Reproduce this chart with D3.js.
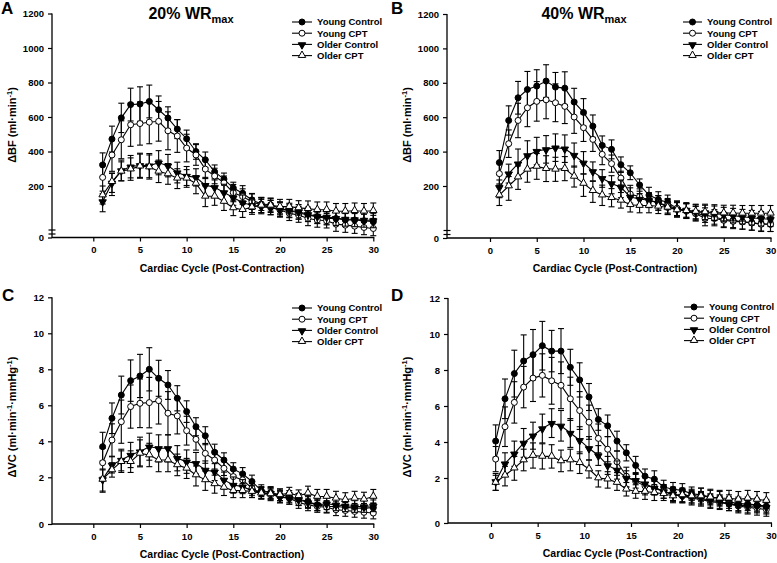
<!DOCTYPE html>
<html><head><meta charset="utf-8">
<script src="https://cdn.jsdelivr.net/npm/d3@7"></script>
<style>
body{margin:0;background:#fff}
svg{display:block}
text{font-family:"Liberation Sans",Arial,sans-serif;font-weight:bold;fill:#000}
</style></head>
<body><svg id="chart" width="777" height="563"></svg>
<script>
// ---------- DATA ----------
const cyclesAB = [1,2,3,4,5,6,7,8,9,10,11,12,13,14,15,16,17,18,19,20,21,22,23,24,25,26,27,28,29,30];
const cyclesC  = [1,2,3,4,5,6,7,8,9,10,11,12,13,14,15,16,17,18,19,20,21,22,23,24,25,26,27,28,29,30];
const cyclesD  = [0.5,1.5,2.5,3.5,4.5,5.5,6.5,7.5,8.5,9.5,10.5,11.5,12.5,13.5,14.5,15.5,16.5,17.5,18.5,19.5,20.5,21.5,22.5,23.5,24.5,25.5,26.5,27.5,28.5,29.5];

const seriesNames = ["Young Control","Young CPT","Older Control","Older CPT"];
const xTickValues = [0,5,10,15,20,25,30];
const bfTickValues = [0,200,400,600,800,1000,1200];
const vcTickValues = [0,2,4,6,8,10,12];
const panelLetters = ["A","B","C","D"];
const panelTitles = ["20% WR","40% WR"];
const xAxisTitle = "Cardiac Cycle (Post-Contraction)";

// Panel A: ΔBF at 20% WRmax
const bfA_youngControl = [322,472,595,672,675,690,642,594,530,474,400,352,282,240,192,172,146,130,127,113,104,96,87,81,74,74,68,68,65,61];
const bfA_youngCPT     = [250,380,468,555,562,570,575,520,490,420,380,298,258,218,174,159,139,126,117,107,94,87,74,68,65,52,48,44,39,35];
const bfA_olderControl = [140,218,290,312,320,318,335,318,278,258,250,205,195,175,155,135,125,120,116,110,105,100,90,82,80,75,72,70,68,66];
const bfA_olderCPT     = [165,225,285,298,315,310,285,270,245,245,215,160,160,140,115,108,118,125,125,120,120,115,112,108,108,102,102,104,102,104];
const bfA_youngControlErr = [70,75,85,95,100,95,80,65,55,50,45,45,40,35,30,30,25,25,25,25,25,25,25,25,25,25,25,25,25,25];
const bfA_youngCPTErr     = [80,95,110,125,125,125,115,110,95,80,60,55,45,40,35,30,30,30,28,28,28,28,28,28,28,28,28,28,28,28];
const bfA_olderControlErr = [40,55,60,65,70,70,70,65,60,55,50,45,40,35,30,30,28,28,28,28,28,28,28,28,28,28,28,28,28,28];
const bfA_olderCPTErr     = [35,50,55,65,70,70,65,60,55,50,45,40,35,35,30,30,28,28,28,28,28,28,30,30,30,30,30,30,30,30];

// Panel B: ΔBF at 40% WRmax
const bfB_youngControl = [336,581,713,761,781,810,775,769,688,628,548,436,413,324,277,206,165,148,137,114,105,94,88,81,71,68,62,58,55,53];
const bfB_youngCPT     = [272,446,581,655,692,701,684,663,601,539,471,384,330,246,169,159,146,135,124,114,103,94,75,75,68,64,62,58,53,53];
const bfB_olderControl = [195,272,330,378,403,413,423,417,380,335,285,245,215,195,158,150,145,135,120,110,108,100,98,95,90,86,82,78,74,72];
const bfB_olderCPT     = [165,200,252,297,314,301,297,301,256,215,182,165,155,145,128,125,125,122,118,108,105,102,100,98,96,96,95,95,95,95];
const bfB_youngControlErr = [70,85,95,105,95,95,85,95,80,80,65,55,55,45,40,35,30,30,28,28,28,28,28,28,28,28,28,28,28,28];
const bfB_youngCPTErr     = [60,80,100,110,115,110,110,100,95,80,70,60,50,40,35,30,28,28,28,28,28,28,28,28,28,28,28,28,28,28];
const bfB_olderControlErr = [40,55,85,85,80,80,80,80,70,65,55,50,45,40,35,30,28,28,28,28,28,28,28,28,28,28,28,28,28,28];
const bfB_olderCPTErr     = [40,55,65,75,75,75,70,70,60,55,45,40,35,30,28,28,28,28,28,28,28,28,30,30,30,30,30,30,30,30];

// Panel C: ΔVC at 20% WRmax
const vcC_youngControl = [3.70,5.28,6.57,7.37,7.63,8.00,7.50,7.13,6.39,5.65,4.81,4.31,3.39,2.96,2.46,2.19,1.82,1.43,1.35,1.25,1.18,1.06,0.96,0.82,0.75,0.75,0.72,0.68,0.68,0.70];
const vcC_youngCPT     = [2.81,4.07,5.09,5.93,6.11,6.15,6.26,5.56,5.41,4.59,4.11,3.33,2.96,2.50,2.04,1.89,1.53,1.32,1.25,1.18,1.10,0.92,0.82,0.75,0.72,0.61,0.58,0.54,0.50,0.47];
const vcC_olderControl = [1.91,2.69,2.96,3.24,3.43,3.70,3.61,3.61,3.06,2.87,2.78,2.41,2.31,1.89,1.67,1.60,1.43,1.35,1.32,1.15,1.10,1.04,0.92,0.82,0.87,0.82,0.78,0.75,0.75,0.78];
const vcC_olderCPT     = [1.91,2.41,2.87,2.87,3.33,3.24,2.96,2.96,2.69,2.50,2.13,1.89,1.72,1.57,1.43,1.43,1.39,1.32,1.29,1.25,1.32,1.21,1.32,1.18,1.18,1.10,1.04,1.10,1.06,1.18];
const vcC_youngControlErr = [0.80,0.85,1.05,1.15,1.20,1.20,1.00,0.80,0.70,0.60,0.50,0.50,0.45,0.40,0.35,0.35,0.30,0.25,0.25,0.25,0.25,0.25,0.25,0.25,0.25,0.20,0.20,0.20,0.20,0.20];
const vcC_youngCPTErr     = [0.80,0.90,1.20,1.20,1.35,1.40,1.30,1.20,1.00,0.80,0.60,0.55,0.50,0.40,0.35,0.30,0.30,0.25,0.25,0.25,0.25,0.25,0.25,0.25,0.25,0.25,0.25,0.25,0.25,0.25];
const vcC_olderControlErr = [0.55,0.45,0.60,0.70,0.80,0.75,0.75,0.75,0.70,0.65,0.60,0.50,0.45,0.40,0.35,0.30,0.30,0.25,0.25,0.25,0.25,0.25,0.25,0.25,0.25,0.25,0.25,0.25,0.25,0.25];
const vcC_olderCPTErr     = [0.50,0.40,0.60,0.60,0.75,0.65,0.65,0.65,0.60,0.55,0.50,0.45,0.40,0.35,0.30,0.30,0.25,0.25,0.25,0.25,0.25,0.25,0.30,0.30,0.30,0.30,0.30,0.30,0.30,0.30];

// Panel D: ΔVC at 40% WRmax
const vcD_youngControl = [4.05,6.40,7.80,8.50,8.85,9.35,9.05,9.05,8.15,7.45,6.50,5.25,4.90,4.05,3.40,2.70,2.10,1.95,1.60,1.50,1.45,1.30,1.25,1.15,1.10,0.95,0.85,0.85,0.80,0.75];
const vcD_youngCPT     = [3.05,4.85,6.20,7.05,7.55,7.70,7.40,7.15,6.40,5.75,5.10,4.20,3.60,2.90,2.10,1.85,1.65,1.60,1.40,1.25,1.20,1.10,1.05,0.95,0.90,0.85,0.75,0.70,0.65,0.60];
const vcD_olderControl = [1.85,2.80,3.35,3.95,4.35,4.75,5.05,4.90,4.50,4.10,3.65,3.25,2.70,2.45,2.00,1.90,1.75,1.55,1.40,1.30,1.20,1.15,1.10,1.00,0.95,0.85,0.80,0.75,0.75,0.70];
const vcD_olderCPT     = [1.80,2.15,2.55,3.00,3.25,3.20,3.20,2.95,3.00,2.85,2.50,2.00,1.95,1.80,1.50,1.40,1.40,1.35,1.30,1.20,1.25,1.20,1.20,1.15,1.10,1.10,1.05,1.10,1.05,1.00];
const vcD_youngControlErr = [0.90,1.10,1.30,1.45,1.40,1.35,1.15,1.25,1.00,0.95,0.75,0.60,0.60,0.55,0.45,0.50,0.40,0.45,0.30,0.30,0.30,0.30,0.30,0.30,0.30,0.30,0.30,0.30,0.30,0.30];
const vcD_youngCPTErr     = [0.70,1.10,1.15,1.15,1.30,1.20,1.30,1.30,1.20,1.05,0.95,0.80,0.70,0.60,0.50,0.45,0.40,0.35,0.30,0.30,0.30,0.30,0.30,0.30,0.30,0.30,0.30,0.30,0.30,0.30];
const vcD_olderControlErr = [0.40,0.60,0.70,0.80,0.75,0.80,0.80,0.85,0.80,0.75,0.65,0.55,0.50,0.50,0.40,0.35,0.30,0.30,0.30,0.30,0.30,0.30,0.30,0.30,0.30,0.30,0.30,0.30,0.30,0.30];
const vcD_olderCPTErr     = [0.35,0.50,0.65,0.60,0.70,0.70,0.65,0.60,0.60,0.60,0.50,0.40,0.40,0.35,0.30,0.30,0.35,0.35,0.30,0.30,0.30,0.30,0.35,0.35,0.35,0.35,0.35,0.35,0.35,0.35];

// ---------- DRAWING ----------
const svg = d3.select("#chart");
const markerStyles = [
  {type:"circle", fill:"#000"},
  {type:"circle", fill:"#fff"},
  {type:"triDown", fill:"#000"},
  {type:"triUp", fill:"#fff"}
];
const triPath = d3.symbol().type(d3.symbolTriangle).size(24)();
const FONT = '"Liberation Sans",Arial,sans-serif';

function drawMarker(g, style, cx, cy) {
  if (style.type === "circle") {
    g.append("circle").attr("cx", cx).attr("cy", cy).attr("r", 3)
      .attr("fill", style.fill).attr("stroke", "#000").attr("stroke-width", 1);
  } else {
    g.append("path").attr("d", triPath)
      .attr("transform", `translate(${cx},${cy + (style.type === "triDown" ? 0.5 : -0.3)}) rotate(${style.type === "triDown" ? 180 : 0})`)
      .attr("fill", style.fill).attr("stroke", "#000").attr("stroke-width", 1);
  }
}

function drawPanel(cfg) {
  const g = svg.append("g");
  const x = d3.scaleLinear().domain([0, 30]).range([cfg.x0, cfg.x30]);
  const y = d3.scaleLinear().domain(cfg.yDomain).range(cfg.yRange);

  // axes lines
  g.append("line").attr("x1", cfg.axX).attr("x2", cfg.axX)
    .attr("y1", y(cfg.yTicks[cfg.yTicks.length - 1])).attr("y2", y(0) + 0.5)
    .attr("stroke", "#000").attr("stroke-width", 1.3);
  g.append("line").attr("x1", cfg.axX).attr("x2", x(30) + 1)
    .attr("y1", y(0)).attr("y2", y(0)).attr("stroke", "#000").attr("stroke-width", 1.3);

  const yAxis = d3.axisLeft(y).tickValues(cfg.yTicks).tickFormat(d3.format("d")).tickSize(4).tickPadding(4);
  const ya = g.append("g").attr("transform", `translate(${cfg.axX},0)`).call(yAxis);
  ya.select(".domain").remove();
  ya.selectAll("line").attr("stroke-width", 1.2);
  ya.selectAll("text").style("font-size", "9.5px").style("font-family", FONT).style("font-weight", "bold");

  const xAxis = d3.axisBottom(x).tickValues(xTickValues).tickFormat(d3.format("d")).tickSize(4).tickPadding(5);
  const xa = g.append("g").attr("transform", `translate(0,${y(0)})`).call(xAxis);
  xa.select(".domain").remove();
  xa.selectAll("line").attr("stroke-width", 1.2);
  xa.selectAll("text").style("font-size", "9.5px").style("font-family", FONT).style("font-weight", "bold");

  // axis break marks
  if (cfg.breakMark) {
    [y(0) - 7.5, y(0) - 3.5].forEach(by => {
      g.append("line").attr("x1", cfg.axX - 3.5).attr("x2", cfg.axX + 3.5)
        .attr("y1", by).attr("y2", by).attr("stroke", "#000").attr("stroke-width", 1.2);
    });
  }

  // series
  const line = d3.line().x(d => x(d.c)).y(d => y(d.v));
  cfg.series.forEach((s, si) => {
    const pts = cfg.cycles.map((c, i) => ({c: c, v: s.values[i], e: s.errors[i]}));
    g.append("path").datum(pts).attr("d", line).attr("fill", "none")
      .attr("stroke", "#000").attr("stroke-width", 1.1);
    pts.forEach(p => {
      const px = x(p.c);
      const yTop = y(p.v + p.e), yBot = y(Math.max(0, p.v - p.e));
      g.append("line").attr("x1", px).attr("x2", px).attr("y1", yTop).attr("y2", yBot)
        .attr("stroke", "#000").attr("stroke-width", 1.1);
      [yTop, yBot].forEach(yy => {
        g.append("line").attr("x1", px - 3).attr("x2", px + 3).attr("y1", yy).attr("y2", yy)
          .attr("stroke", "#000").attr("stroke-width", 1.1);
      });
    });
    pts.forEach(p => drawMarker(g, markerStyles[si], x(p.c), y(p.v)));
  });

  // legend
  seriesNames.forEach((name, i) => {
    const ly = cfg.legY + i * 11.2;
    g.append("line").attr("x1", cfg.legX).attr("x2", cfg.legX + cfg.legW)
      .attr("y1", ly).attr("y2", ly).attr("stroke", "#000").attr("stroke-width", 1.1);
    drawMarker(g, markerStyles[i], cfg.legX + cfg.legW / 2, ly);
    g.append("text").attr("x", cfg.legX + cfg.legW + 5).attr("y", ly + 3.4)
      .style("font-size", "9.5px").text(name);
  });

  // x-axis title
  g.append("text").attr("x", cfg.xTitleX).attr("y", y(0) + 34).attr("text-anchor", "middle")
    .style("font-size", "10.5px").text(xAxisTitle);

  // y-axis title
  const yt = g.append("text").attr("transform", `translate(${cfg.yTitleX},${cfg.yTitleY}) rotate(-90)`)
    .attr("text-anchor", "middle").style("font-size", "11px");
  yt.append("tspan").text(cfg.yTitle[0]);
  cfg.yTitle.slice(1).forEach(part => {
    yt.append("tspan").attr("dy", part.sup ? -4 : 4).style("font-size", part.sup ? "7.5px" : "11px").text(part.t);
  });

  // panel letter
  g.append("text").attr("x", cfg.letterX).attr("y", cfg.letterY).style("font-size", "17px").text(cfg.letter);

  // title
  if (cfg.title) {
    const tt = g.append("text").attr("x", cfg.titleX).attr("y", 19).attr("text-anchor", "middle")
      .style("font-size", "16px");
    tt.append("tspan").text(cfg.title);
    tt.append("tspan").attr("dy", 4).style("font-size", "11px").text("max");
  }
}

const bfTitle = ["ΔBF (ml·min", {t:"-1", sup:true}, {t:")", sup:false}];
const vcTitle = ["ΔVC (ml·min", {t:"-1", sup:true}, {t:"·mmHg", sup:false}, {t:"-1", sup:true}, {t:")", sup:false}];

drawPanel({
  letter: panelLetters[0], letterX: 1, letterY: 14, title: panelTitles[0], titleX: 191,
  axX: 52, x0: 93.3, x30: 373.3,
  yDomain: [0, 200, 1200], yRange: [237.5, 186, 13.5], yTicks: bfTickValues, breakMark: true,
  cycles: cyclesAB,
  series: [
    {values: bfA_youngControl, errors: bfA_youngControlErr},
    {values: bfA_youngCPT, errors: bfA_youngCPTErr},
    {values: bfA_olderControl, errors: bfA_olderControlErr},
    {values: bfA_olderCPT, errors: bfA_olderCPTErr}
  ],
  legX: 292, legW: 20, legY: 22,
  xTitleX: 222, yTitleX: 16, yTitleY: 125, yTitle: bfTitle
});

drawPanel({
  letter: panelLetters[1], letterX: 391, letterY: 14, title: panelTitles[1], titleX: 584,
  axX: 447, x0: 490, x30: 770.5,
  yDomain: [0, 200, 1200], yRange: [238, 186, 14], yTicks: bfTickValues, breakMark: true,
  cycles: cyclesAB,
  series: [
    {values: bfB_youngControl, errors: bfB_youngControlErr},
    {values: bfB_youngCPT, errors: bfB_youngCPTErr},
    {values: bfB_olderControl, errors: bfB_olderControlErr},
    {values: bfB_olderCPT, errors: bfB_olderCPTErr}
  ],
  legX: 683, legW: 19, legY: 22,
  xTitleX: 615, yTitleX: 411, yTitleY: 125, yTitle: bfTitle
});

drawPanel({
  letter: panelLetters[2], letterX: 2, letterY: 301,
  axX: 52, x0: 93.3, x30: 373.3,
  yDomain: [0, 2, 12], yRange: [524, 477.3, 297.3], yTicks: vcTickValues, breakMark: false,
  cycles: cyclesC,
  series: [
    {values: vcC_youngControl, errors: vcC_youngControlErr},
    {values: vcC_youngCPT, errors: vcC_youngCPTErr},
    {values: vcC_olderControl, errors: vcC_olderControlErr},
    {values: vcC_olderCPT, errors: vcC_olderCPTErr}
  ],
  legX: 292, legW: 20, legY: 308,
  xTitleX: 222, yTitleX: 16, yTitleY: 417, yTitle: vcTitle
});

drawPanel({
  letter: panelLetters[3], letterX: 391, letterY: 301,
  axX: 448, x0: 491, x30: 771,
  yDomain: [0, 2, 12], yRange: [523, 478, 298], yTicks: vcTickValues, breakMark: false,
  cycles: cyclesD,
  series: [
    {values: vcD_youngControl, errors: vcD_youngControlErr},
    {values: vcD_youngCPT, errors: vcD_youngCPTErr},
    {values: vcD_olderControl, errors: vcD_olderControlErr},
    {values: vcD_olderCPT, errors: vcD_olderCPTErr}
  ],
  legX: 684, legW: 20, legY: 307,
  xTitleX: 625, yTitleX: 411, yTitleY: 417, yTitle: vcTitle
});
</script>
</body></html>
